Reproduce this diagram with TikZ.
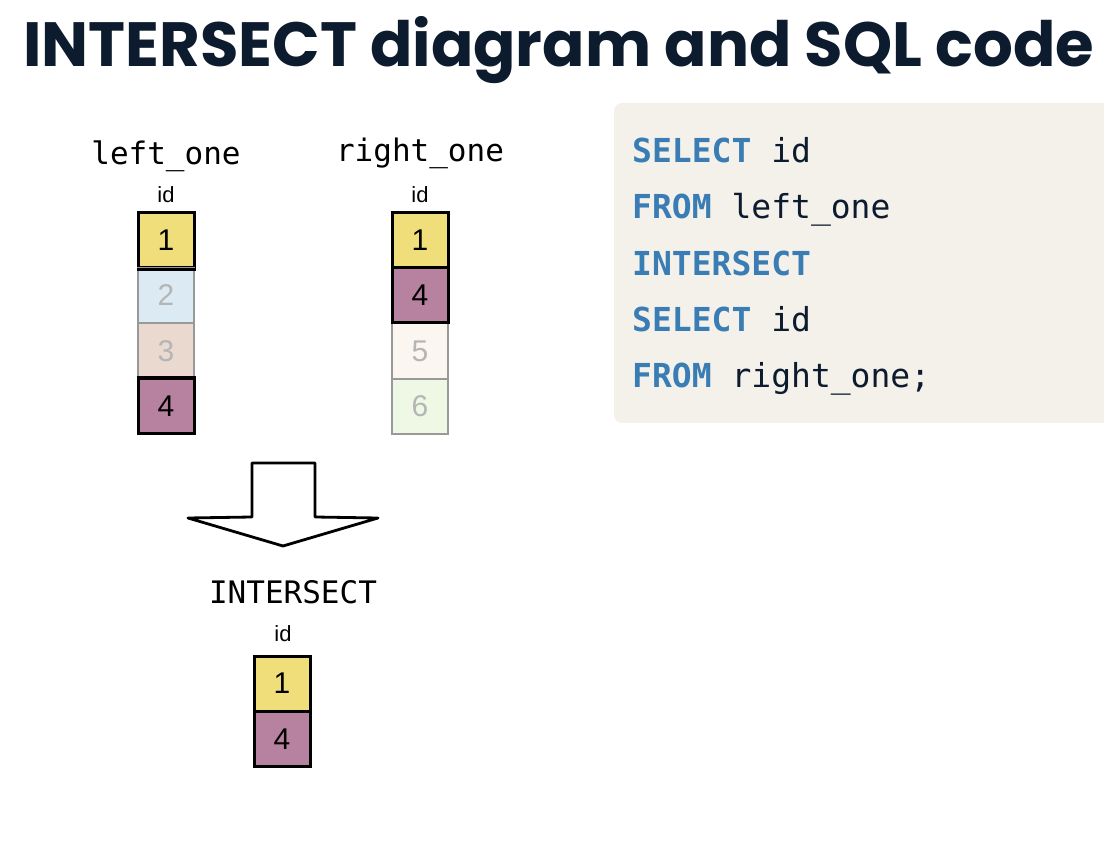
\documentclass[tikz,border=0pt]{standalone}
\usepackage{fontspec}
\setmainfont{Liberation Sans}
\newfontfamily\titlefont{Poppins}
\newfontfamily\codefont{DejaVu Sans Mono}
\usetikzlibrary{positioning}

\definecolor{navy}{HTML}{0D1B2E}
\definecolor{kwblue}{HTML}{3A7DB5}
\definecolor{codebg}{HTML}{F4F1EA}
\definecolor{cellyellow}{HTML}{EFDE79}
\definecolor{cellpurple}{HTML}{B7829F}
\definecolor{cellblue}{HTML}{DCEAF4}
\definecolor{cellpink}{HTML}{EAD9CF}
\definecolor{cellcream}{HTML}{FBF6EF}
\definecolor{cellgreen}{HTML}{EEF8E4}
\definecolor{fadetext}{HTML}{B5B5B5}

\tikzset{
  cellbox/.style={draw=black,line width=3pt,minimum width=56pt,minimum height=55pt,
    inner sep=0pt,font=\fontsize{30}{31}\selectfont},
  fadebox/.style={cellbox,draw=gray!80,line width=1.8pt,text=fadetext},
  idlabel/.style={font=\fontsize{22}{23}\selectfont,anchor=base},
  tablename/.style={font=\codefont\fontsize{31}{32}\selectfont,anchor=base},
  codeline/.style={font=\codefont\fontsize{33}{34}\selectfont,text=navy,anchor=base west,inner sep=0pt}
}
\newcommand{\kwd}[1]{\textcolor{kwblue}{\bfseries #1}}

\begin{document}
\begin{tikzpicture}[x=1pt,y=-1pt]
\useasboundingbox[fill=white] (0,0) rectangle (1104,842);

\node[font=\titlefont\bfseries\fontsize{62.5}{66}\selectfont,text=navy,anchor=base west,inner sep=0pt]
  (title) at (23,67) {INTERSECT diagram and SQL code};

% left table
\node[tablename] (leftname) at (166,165) {left\_one};
\node[idlabel] (leftid) at (166,203) {id};
\node[cellbox,fill=cellyellow] (l1) at (166,240.5) {1};
\node[fadebox,fill=cellblue] (l2) at (166,295.5) {2};
\node[fadebox,fill=cellpink] (l3) at (166,351) {3};
\node[cellbox,fill=cellpurple] (l4) at (166,406.5) {4};
\draw[line width=3pt] (l1.south west) -- (l1.south east);
\draw[line width=3pt] (l4.north west) -- (l4.north east);

% right table
\node[tablename] (rightname) at (420,162) {right\_one};
\node[idlabel] (rightid) at (420,203) {id};
\node[fadebox,fill=cellcream] (r5) at (420,351) {5};
\node[fadebox,fill=cellgreen] (r6) at (420,406.5) {6};
\node[cellbox,fill=cellyellow] (r1) at (420,240.5) {1};
\node[cellbox,fill=cellpurple] (r4) at (420,295.5) {4};

% block arrow
\draw[line width=2.8pt,line join=round] (252,463) -- (315,463) -- (315,517) -- (378,518)
  -- (283,546) -- (188,518) -- (252,517) -- cycle;

% result
\node[tablename] (resname) at (293,603) {INTERSECT};
\node[idlabel] (resid) at (283,641) {id};
\node[cellbox,fill=cellyellow] (s1) at (282,683.5) {1};
\node[cellbox,fill=cellpurple] (s4) at (282,739) {4};

% code panel
\fill[codebg,rounded corners=8pt] (614,103) rectangle (1120,423);
\node[codeline] (c1) at (632,163) {\kwd{SELECT} id};
\node[codeline] (c2) at (632,219) {\kwd{FROM} left\_one};
\node[codeline] (c3) at (632,276) {\kwd{INTERSECT}};
\node[codeline] (c4) at (632,332) {\kwd{SELECT} id};
\node[codeline] (c5) at (632,388) {\kwd{FROM} right\_one;};

\end{tikzpicture}
\end{document}
